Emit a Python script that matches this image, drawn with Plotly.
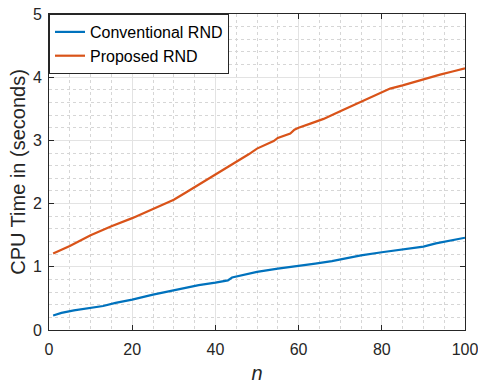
import plotly.graph_objects as go

n_conv = [1, 3, 6, 10, 13, 16, 20, 25, 30, 33, 36, 40, 43, 44, 47, 50, 55, 60, 64, 68, 72, 75, 80, 85, 90, 93, 96, 100]
t_conv = [0.23, 0.27, 0.31, 0.35, 0.38, 0.43, 0.48, 0.56, 0.63, 0.67, 0.71, 0.75, 0.785, 0.83, 0.88, 0.92, 0.97, 1.01, 1.05, 1.09, 1.14, 1.18, 1.23, 1.28, 1.32, 1.37, 1.41, 1.46]

n_prop = [1, 5, 10, 13, 15, 20, 25, 28, 30, 33, 35, 38, 40, 42, 44, 46, 48, 50, 52, 54, 55, 57, 58, 59, 60, 63, 66, 70, 73, 76, 79, 82, 85, 88, 91, 94, 97, 100]
t_prop = [1.21, 1.33, 1.50, 1.59, 1.64, 1.77, 1.91, 2.00, 2.06, 2.18, 2.26, 2.38, 2.46, 2.53, 2.62, 2.70, 2.78, 2.87, 2.93, 2.99, 3.04, 3.09, 3.11, 3.17, 3.20, 3.27, 3.34, 3.46, 3.55, 3.64, 3.73, 3.82, 3.87, 3.93, 3.99, 4.04, 4.09, 4.14]

series_names = ["Conventional RND", "Proposed RND"]
x_ticks = [0, 20, 40, 60, 80, 100]
y_ticks = [0, 1, 2, 3, 4, 5]

FONT = "Liberation Sans, Arial, Helvetica, sans-serif"
AX = "#262626"

fig = go.Figure()
fig.add_trace(go.Scatter(x=n_conv, y=t_conv, mode="lines", name=series_names[0],
                         line=dict(color="#0072BD", width=2.2)))
fig.add_trace(go.Scatter(x=n_prop, y=t_prop, mode="lines", name=series_names[1],
                         line=dict(color="#D95319", width=2.2)))

common = dict(showline=True, linecolor=AX, linewidth=1, mirror="allticks",
              ticks="inside", ticklen=5, tickcolor=AX, tickwidth=1,
              showgrid=True, gridcolor="#e3e3e3", gridwidth=1,
              zeroline=False, ticklabeloverflow="allow",
              tickfont=dict(family=FONT, size=16, color=AX))

fig.update_xaxes(range=[0, 100], tickvals=x_ticks, ticktext=[str(v) for v in x_ticks],
                 minor=dict(dtick=5, tick0=0, showgrid=True, griddash="dot",
                            gridcolor="#d6d6d6", gridwidth=1, ticks=""),
                 ticklabelstandoff=5,
                 title=dict(text="<i>n</i>", font=dict(family=FONT, size=20, color=AX), standoff=8),
                 **common)
fig.update_yaxes(range=[0, 5], tickvals=y_ticks, ticktext=[str(v) for v in y_ticks],
                 minor=dict(dtick=0.2, tick0=0, showgrid=True, griddash="dot",
                            gridcolor="#d6d6d6", gridwidth=1, ticks=""),
                 ticklabelstandoff=3,
                 title=dict(text="CPU Time in (seconds)", font=dict(family=FONT, size=20, color=AX), standoff=1),
                 **common)

fig.update_layout(
    width=478, height=386,
    margin=dict(l=49, r=12.5, t=13.5, b=55.5, autoexpand=False),
    paper_bgcolor="white", plot_bgcolor="white",
    font=dict(family=FONT, color=AX),
    showlegend=True,
    legend=dict(x=0, y=1, xanchor="left", yanchor="top",
                bgcolor="white", bordercolor=AX, borderwidth=1,
                font=dict(family=FONT, size=16, color="black"),
                tracegroupgap=0, itemwidth=30),
)

fig.write_html("out.html")
